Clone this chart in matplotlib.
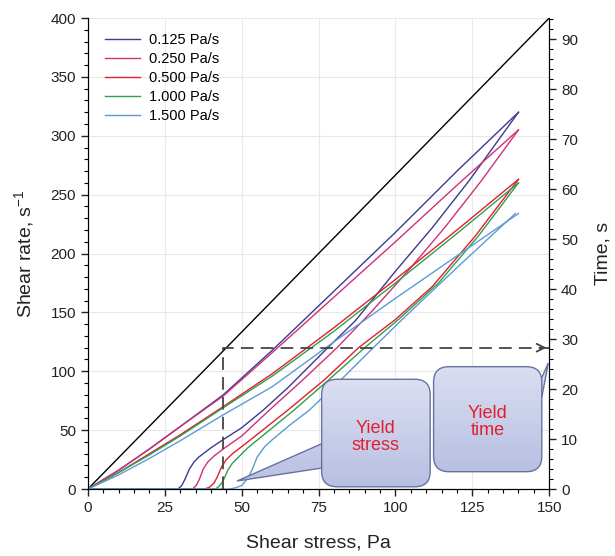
import numpy as np
import matplotlib.pyplot as plt
from matplotlib.patches import FancyBboxPatch, Polygon
from matplotlib.colors import LinearSegmentedColormap
from matplotlib.ticker import MultipleLocator

plt.rcParams['font.family'] = ['Liberation Sans', 'DejaVu Sans']
plt.rcParams['mathtext.fontset'] = 'custom'
plt.rcParams['mathtext.rm'] = 'Liberation Sans'

labels = ['0.125 Pa/s', '0.250 Pa/s', '0.500 Pa/s', '1.000 Pa/s', '1.500 Pa/s']
colors = ['#3b3b8f', '#d0307a', '#e0202e', '#2fa04c', '#5b9bd5']

# down-ramp branches (back to the origin)
up_x = [0, 10, 20, 30, 44, 60, 80, 100, 120, 140]
up_y = [
    [0, 16, 34, 53, 80, 118, 168, 218, 270, 320],
    [0, 16, 34, 53, 79, 116, 163, 210, 258, 305],
    [0, 14, 30, 46, 70, 98, 137, 178, 220, 263],
    [0, 14, 29, 45, 69, 96, 134, 175, 217, 260],
    [0, 12, 26, 41, 63, 87, 125, 162, 198, 234],
]

# up-ramp branches (start at the yield stress)
low_x = [
    [0, 29.3, 30.5, 31.5, 33, 34.5, 36, 40, 44, 50, 57, 65, 78, 87, 100, 112, 124, 140],
    [0, 34, 35.2, 36.2, 37.5, 39, 41, 44, 50, 59, 70, 81, 92, 104, 116, 128, 140],
    [0, 38, 39.5, 41, 42, 43.5, 45, 47, 52, 65, 77, 88, 100, 112, 126, 140],
    [0, 41.5, 42.5, 43.5, 44.5, 45.5, 47, 52, 67, 78, 90, 101, 114, 127, 140],
    [0, 46, 48, 50, 52, 53.5, 55, 57.5, 60, 66, 72, 82, 92, 103, 120, 139],
]
low_y = [
    [0, 0, 3, 8, 17, 23, 27, 35, 42, 52, 67, 86, 120, 143, 185, 222, 262, 320],
    [0, 0, 3, 8, 17, 23, 28, 34, 45, 67, 93, 120, 150, 185, 222, 262, 305],
    [0, 0, 1.5, 5, 10, 19, 25, 30, 40, 67, 93, 120, 144, 172, 215, 263],
    [0, 0, 2, 5, 10, 16, 22, 35, 67, 92, 120, 144, 175, 215, 260],
    [0, 0, 1, 3, 9, 17, 27, 36, 42, 55, 67, 92, 118, 146, 188, 234],
]

yield_stress = 44
yield_rate = 120

fig = plt.figure(figsize=(6.15, 5.56), dpi=100)
ax = fig.add_axes([0.143, 0.1205, 0.750, 0.847])
ax2 = ax.twinx()

ax.plot([0, 150], [0, 400], color='black', lw=1.0, zorder=3)
for i in range(5):
    ax.plot(up_x, up_y[i], color=colors[i], lw=1.0, label=labels[i], zorder=3)
    ax.plot(low_x[i], low_y[i], color=colors[i], lw=1.0, zorder=3)

# yield dashed guide
ax.plot([yield_stress, yield_stress, 150], [0, yield_rate, yield_rate],
        color='#444444', lw=1.3, ls=(0, (7, 4)), zorder=4, clip_on=False)
ax.annotate('', xy=(150, yield_rate), xytext=(146, yield_rate),
            arrowprops=dict(arrowstyle='->', color='#444444', lw=1.3,
                            mutation_scale=14), annotation_clip=False, zorder=4)

# callouts with a soft vertical gradient
asp = 3.073 / 1.1775
edge = '#66739f'
grad = LinearSegmentedColormap.from_list('bub', ['#b8c0e2', '#dcdff2'])


def bubble(x0, y0, w, h, tail):
    t = Polygon(tail, closed=True, fc='none', ec=edge, lw=1.0, zorder=5)
    b = FancyBboxPatch((x0, y0), w, h, boxstyle='round,pad=0,rounding_size=5',
                       mutation_aspect=asp, fc='none', ec=edge, lw=1.0, zorder=6)
    ax.add_patch(t)
    ax.add_patch(b)
    ys = [p[1] for p in tail] + [y0, y0 + h]
    xs = [p[0] for p in tail] + [x0, x0 + w]
    ext = (min(xs), max(xs), min(ys), max(ys))
    g = np.linspace(0, 1, 100).reshape(-1, 1)
    for patch, z in [(t, 4.9), (b, 5.9)]:
        im = ax.imshow(g, extent=ext, origin='lower', cmap=grad, aspect='auto',
                       zorder=z, interpolation='bilinear')
        im.set_clip_path(patch)


bubble(76, 1.9, 35.3, 91.3, [(76.5, 39), (48.5, 6.8), (76.5, 18)])
bubble(112.4, 14.7, 35.2, 89.2, [(146.8, 90), (149.7, 107), (147.6, 78)])
ax.text(93.6, 44, 'Yield\nstress', color='#e0202e', fontsize=13, ha='center',
        va='center', linespacing=1.0, zorder=7)
ax.text(130, 57, 'Yield\ntime', color='#e0202e', fontsize=13, ha='center',
        va='center', linespacing=1.0, zorder=7)

ax.set_xlim(0, 150)
ax.set_ylim(0, 400)
ax2.set_ylim(0, 94.2)
ax.xaxis.set_major_locator(MultipleLocator(25))
ax.xaxis.set_minor_locator(MultipleLocator(5))
ax.yaxis.set_major_locator(MultipleLocator(50))
ax.yaxis.set_minor_locator(MultipleLocator(10))
ax2.yaxis.set_major_locator(MultipleLocator(10))
ax2.yaxis.set_minor_locator(MultipleLocator(2))
for a in [ax, ax2]:
    a.tick_params(which='major', direction='out', length=5, width=1, labelsize=11,
                  colors='#222222')
    a.tick_params(which='minor', direction='out', length=3, width=0.8)
    a.spines['top'].set_visible(False)
ax.grid(True, which='major', color='#e8e8e8', lw=0.8)
ax.set_axisbelow(True)

ax.set_xlabel('Shear stress, Pa', fontsize=14, labelpad=14, color='#222222')
ax.set_ylabel('Shear rate, s$^{-1}$', fontsize=14, labelpad=10, color='#222222')
ax2.set_ylabel('Time, s', fontsize=14, labelpad=12, color='#222222')

ax.legend(loc='upper left', frameon=False, fontsize=10.5, handlelength=2.4,
          handletextpad=0.6, labelspacing=0.35, borderaxespad=0.6,
          bbox_to_anchor=(0.005, 1.0))

fig.savefig('out.png', dpi=100)
